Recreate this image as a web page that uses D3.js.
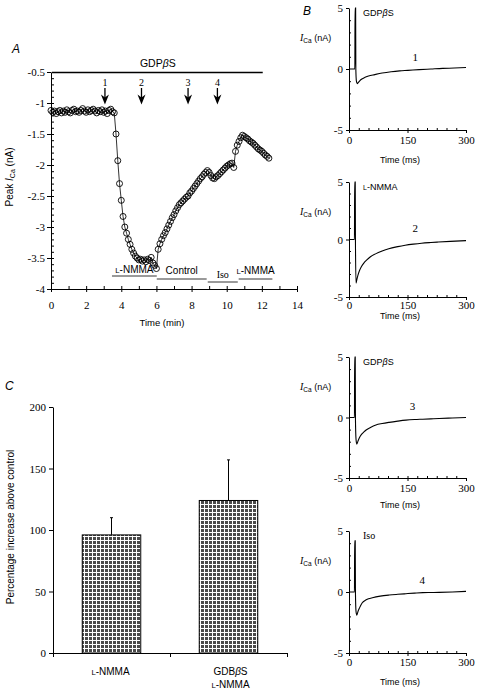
<!DOCTYPE html>
<html><head><meta charset="utf-8">
<script src="https://cdn.jsdelivr.net/npm/d3@7"></script>
<style>
html,body{margin:0;padding:0;background:#fff;}
svg{display:block;}
</style></head><body>
<svg id="fig" width="477" height="693"></svg>
<script>
// ---------------- DATA ----------------
// Panel A: peak ICa (nA), one sample every 0.1 min from 0 to 12.4 min
const sampleMin = 0.1;
const peakICa = [
 -1.12,-1.15,-1.13,-1.17,-1.14,-1.12,-1.16,-1.13,-1.15,-1.11,
 -1.14,-1.16,-1.12,-1.10,-1.14,-1.13,-1.15,-1.12,-1.09,-1.13,
 -1.15,-1.11,-1.14,-1.12,-1.10,-1.13,-1.16,-1.12,-1.14,-1.11,
 -1.15,-1.13,-1.17,-1.12,-1.10,-1.14,
 -1.16,-1.50,-1.93,-2.30,-2.57,-2.83,-3.00,-3.10,-3.20,-3.28,
 -3.36,-3.42,-3.47,-3.50,-3.53,-3.52,-3.55,-3.53,-3.56,-3.52,
 -3.54,-3.49,-3.58,-3.62,-3.67,
 -3.36,-3.27,-3.20,-3.14,-3.09,-3.03,-2.97,-2.91,-2.85,-2.80,
 -2.74,-2.69,-2.64,-2.61,-2.58,-2.55,-2.52,-2.50,-2.45,-2.42,
 -2.38,-2.34,-2.30,-2.26,-2.22,-2.19,-2.15,-2.12,-2.09,-2.12,
 -2.17,-2.21,-2.22,-2.19,-2.17,-2.14,-2.11,-2.08,-2.05,-2.02,
 -2.00,-1.98,-1.97,-2.04,-1.78,-1.68,-1.62,-1.56,-1.52,-1.54,
 -1.56,-1.58,-1.61,-1.63,-1.65,-1.68,-1.71,-1.74,-1.76,-1.78,
 -1.81,-1.84,-1.86,-1.89
];
const xTicksA = [0,2,4,6,8,10,12,14];
const yTicksA = [-0.5,-1,-1.5,-2,-2.5,-3,-3.5,-4];
const arrowTimes = [3.07,5.15,7.8,9.47];
const arrowLabels = ["1","2","3","4"];
const gdpBar = [0.05,12.05];
const treatLabels = ["L-NMMA","Control","Iso","L-NMMA"];
const treatStart = [3.47,6.02,8.92,10.68];
const treatEnd   = [6.02,8.86,10.63,12.6];

// Panel B: current traces (time ms, current nA)
const traceConditions = ["GDPβS","L-NMMA","GDPβS","Iso"];
const traceNumbers = ["1","2","3","4"];
const trace1T = [0.5,15,15.5,17,17.5,19,21,24,28,33,40,50,66,85,108,130,151,180,210,240,270,300];
const trace1V = [0,0,5,5,0,-1.0,-1.2,-1.1,-0.95,-0.82,-0.7,-0.58,-0.46,-0.33,-0.22,-0.15,-0.11,-0.05,0.0,0.05,0.08,0.12];
const trace2T = [0.5,14,14.5,16,16.5,18,20,23,27,32,38,45,55,68,85,102,125,144,165,186,210,229,260,300];
const trace2V = [0,0,5,5,0,-3.8,-3.5,-3.1,-2.7,-2.35,-2.05,-1.8,-1.5,-1.25,-1.0,-0.8,-0.62,-0.5,-0.4,-0.32,-0.26,-0.22,-0.16,-0.1];
const trace3T = [0.5,14,14.5,16,16.5,18,20,23,27,32,38,43,55,69,85,103,125,146,168,189,210,231,265,300];
const trace3V = [0,0,5,5,0,-1.8,-2.2,-1.95,-1.65,-1.4,-1.2,-1.05,-0.82,-0.62,-0.5,-0.4,-0.3,-0.22,-0.17,-0.14,-0.11,-0.08,-0.04,0];
const trace4T = [0.5,14,14.5,16,16.5,18,20,23,27,34,42,50,60,80,103,125,146,168,189,210,231,265,300];
const trace4V = [0,0,4.2,4.2,0,-1.6,-1.9,-1.6,-1.3,-0.88,-0.68,-0.56,-0.47,-0.34,-0.25,-0.19,-0.14,-0.09,-0.05,-0.04,-0.03,0.0,0.05];
const xTicksB = [0,150,300];
const yTicksB = [-5,0,5];

// Panel C
const barCats = ["L-NMMA","GDBβS|L-NMMA"];
const barMeans = [96,124];
const barErrs = [14,33];
const yTicksC = [0,50,100,150,200];

// ---------------- DRAW ----------------
const SERIF = "'Liberation Serif','Times New Roman',serif";
const SANS = "'Liberation Sans',Arial,Helvetica,sans-serif";
const svg = d3.select("#fig");

function styleAxis(g, fs){
  g.attr("font-family", null).attr("font-size", null)
   .style("font-family", SERIF).style("font-size", fs+"px");
  g.selectAll("path,line").attr("stroke","#000");
  g.selectAll("text").attr("fill","#000").style("font-family", SERIF).style("font-size", fs+"px");
}
function lnmma(sel, fs){
  sel.append("tspan").style("font-size", (fs*0.78)+"px").text("L");
  sel.append("tspan").style("font-size", fs+"px").text("-NMMA");
}
function label(sel, txt, fs){
  if (txt === "L-NMMA") { lnmma(sel, fs); return; }
  const i = txt.indexOf("β");
  if (i >= 0){
    sel.append("tspan").text(txt.slice(0,i));
    sel.append("tspan").attr("font-style","italic").text("β");
    sel.append("tspan").text(txt.slice(i+1));
    return;
  }
  sel.text(txt);
}
function txt(g, x, y, fam, fs){
  return g.append("text").attr("x",x).attr("y",y).style("font-family",fam).style("font-size",fs+"px");
}
function panelLetter(x,y,t){
  txt(svg,x,y,SANS,12).attr("font-style","italic").text(t);
}

// ---- Panel A
const xA = d3.scaleLinear().domain([0,14]).range([51,297]);
const yA = d3.scaleLinear().domain([-0.5,-4]).range([72,289]);
const gA = svg.append("g");
panelLetter(12,53,"A");

gA.append("g").attr("transform",`translate(${xA(0)},0)`)
  .call(d3.axisLeft(yA).tickValues(yTicksA).tickSize(4).tickSizeOuter(0).tickPadding(2).tickFormat(d=>String(d)))
  .call(g=>styleAxis(g,11));
gA.append("g").attr("transform",`translate(${xA(0)},0)`)
  .call(d3.axisRight(yA).tickValues(d3.range(-0.6,-3.95,-0.1)).tickSize(3).tickFormat(""))
  .call(g=>g.select(".domain").remove()).call(g=>styleAxis(g,11));
gA.append("g").attr("transform",`translate(0,${yA(-4)})`)
  .call(d3.axisBottom(xA).tickValues(xTicksA).tickSize(3).tickSizeOuter(0).tickPadding(9))
  .call(g=>styleAxis(g,11));
gA.append("g").attr("transform",`translate(0,${yA(-4)})`)
  .call(d3.axisTop(xA).tickValues(d3.range(1,15,1)).tickSize(3).tickFormat(""))
  .call(g=>g.select(".domain").remove()).call(g=>styleAxis(g,11));

txt(gA,162,326,SANS,9.5).attr("text-anchor","middle").text("Time (min)");
const ylA = gA.append("text").attr("transform","translate(12.5,177) rotate(-90)")
  .attr("text-anchor","middle").style("font-family",SANS).style("font-size","10px");
ylA.append("tspan").text("Peak ");
ylA.append("tspan").attr("font-style","italic").text("I");
ylA.append("tspan").style("font-size","7px").attr("dy",2).text("Ca");
ylA.append("tspan").attr("dy",-2).text(" (nA)");

// GDPbetaS bar
gA.append("line").attr("x1",xA(gdpBar[0])).attr("x2",xA(gdpBar[1]))
  .attr("y1",yA(-0.5)+0.5).attr("y2",yA(-0.5)+0.5).attr("stroke","#000").attr("stroke-width",1.4);
label(txt(gA,xA(6.08),67,SANS,10.5).attr("text-anchor","middle"), "GDPβS", 10.5);

// arrows
arrowTimes.forEach((t,i)=>{
  const x = xA(t);
  txt(gA,x,86,SERIF,10).attr("text-anchor","middle").text(arrowLabels[i]);
  gA.append("line").attr("x1",x).attr("x2",x).attr("y1",88).attr("y2",99)
    .attr("stroke","#000").attr("stroke-width",1.3);
  gA.append("path").attr("d",`M${x},104.5 L${x-4},94.5 L${x},97.5 L${x+4},94.5 Z`).attr("fill","#000");
});

// treatments
const treatLineY = [276,279,282,279];
const treatTextY = [273,274,278,274];
treatLabels.forEach((lab,i)=>{
  gA.append("line").attr("x1",xA(treatStart[i])).attr("x2",xA(treatEnd[i]))
    .attr("y1",treatLineY[i]).attr("y2",treatLineY[i]).attr("stroke","#000").attr("stroke-width",0.8);
  const cx = (xA(treatStart[i])+xA(treatEnd[i]))/2;
  const isIso = lab==="Iso";
  label(txt(gA,cx,treatTextY[i],isIso?SERIF:SANS,10).attr("text-anchor","middle"), lab, 10);
});

// data
const ptsA = peakICa.map((v,i)=>[i*sampleMin, v]);
gA.append("path").datum(ptsA)
  .attr("d", d3.line().x(d=>xA(d[0])).y(d=>yA(d[1])))
  .attr("fill","none").attr("stroke","#000").attr("stroke-width",0.8);
gA.append("g").selectAll("circle").data(ptsA).join("circle")
  .attr("cx",d=>xA(d[0])).attr("cy",d=>yA(d[1])).attr("r",3.0)
  .attr("fill","none").attr("stroke","#000").attr("stroke-width",0.9);

// ---- Panel B
panelLetter(303,15,"B");
const traces = [[trace1T,trace1V],[trace2T,trace2V],[trace3T,trace3V],[trace4T,trace4V]];
const layoutB = [
  {top:8,bottom:130,pad:3.5,title:163,numMs:170},
  {top:182,bottom:297,pad:1,title:319,numMs:170},
  {top:357,bottom:478,pad:3.5,title:508,numMs:163},
  {top:531,bottom:653,pad:2.5,title:685,numMs:188}
];
const xB = d3.scaleLinear().domain([0,300]).range([349,466]);
traces.forEach((tr,i)=>{
  const L = layoutB[i];
  const yB = d3.scaleLinear().domain([-5,5]).range([L.bottom,L.top]);
  const g = svg.append("g");
  g.append("g").attr("transform",`translate(${xB(0)},0)`)
    .call(d3.axisLeft(yB).tickValues(yTicksB).tickSize(3).tickSizeOuter(0).tickPadding(3).tickFormat(d=>String(d)))
    .call(a=>styleAxis(a,11));
  g.append("g").attr("transform",`translate(${xB(0)},0)`)
    .call(d3.axisRight(yB).tickValues([-4,-3,-2,-1,1,2,3,4]).tickSize(2).tickFormat(""))
    .call(a=>a.select(".domain").remove()).call(a=>styleAxis(a,11));
  g.append("g").attr("transform",`translate(0,${L.bottom})`)
    .call(d3.axisBottom(xB).tickValues(xTicksB).tickSize(3).tickSizeOuter(0).tickPadding(L.pad))
    .call(a=>styleAxis(a,11));
  g.append("g").attr("transform",`translate(0,${L.bottom})`)
    .call(d3.axisTop(xB).tickValues(d3.range(25,300,25)).tickSize(2).tickFormat(""))
    .call(a=>a.select(".domain").remove()).call(a=>styleAxis(a,11));
  txt(g,400,L.title,SANS,9).attr("text-anchor","middle").text("Time (ms)");
  const yl = txt(g,300,L.top+33,SANS,9);
  yl.append("tspan").attr("font-style","italic").style("font-family",SERIF).style("font-size","10px").text("I");
  yl.append("tspan").style("font-size","6.5px").attr("dy",2).text("Ca");
  yl.append("tspan").attr("dy",-2).text(" (nA)");
  const cond = traceConditions[i];
  label(txt(g,363,L.top+8,cond==="Iso"?SERIF:SANS,cond==="Iso"?10:9), cond, 9);
  txt(g,xB(L.numMs),yB(0)-8,SERIF,11).attr("text-anchor","middle").text(traceNumbers[i]);
  const pts = tr[0].map((t,k)=>[t,tr[1][k]]);
  g.append("path").datum(pts)
    .attr("d", d3.line().x(d=>xB(d[0])).y(d=>yB(d[1])).curve(d3.curveMonotoneX))
    .attr("fill","none").attr("stroke","#000").attr("stroke-width",1.1);
});

// ---- Panel C
panelLetter(5,390,"C");
const xC = d3.scaleBand().domain(barCats).range([53,287]).paddingInner(0).paddingOuter(0);
const yC = d3.scaleLinear().domain([0,200]).range([653,407]);
const gC = svg.append("g");
const defs = svg.append("defs");
const pat = defs.append("pattern").attr("id","hatch").attr("patternUnits","userSpaceOnUse")
  .attr("width",4).attr("height",4);
pat.append("rect").attr("width",4).attr("height",4).attr("fill","#4a4a4a");
pat.append("path").attr("d","M0,0.5H4M0.5,0V4").attr("stroke","#fff").attr("stroke-width",1);

gC.append("g").attr("transform",`translate(53,0)`)
  .call(d3.axisLeft(yC).tickValues(yTicksC).tickSize(4).tickSizeOuter(0).tickPadding(3))
  .call(a=>styleAxis(a,11));
gC.append("g").attr("transform",`translate(0,653)`)
  .call(d3.axisBottom(xC).tickSize(0).tickFormat(""))
  .call(a=>styleAxis(a,11));
[53, xC(barCats[1]), 287].forEach(x=>{
  gC.append("line").attr("x1",x+0.5).attr("x2",x+0.5).attr("y1",653).attr("y2",657).attr("stroke","#000");
});
barCats.forEach((c,i)=>{
  const bw = xC.bandwidth()*0.5;
  const x0 = xC(c)+xC.bandwidth()/2 - bw/2;
  const cx = xC(c)+xC.bandwidth()/2;
  gC.append("line").attr("x1",cx).attr("x2",cx).attr("y1",yC(barMeans[i])).attr("y2",yC(barMeans[i]+barErrs[i]))
    .attr("stroke","#000").attr("stroke-width",1);
  gC.append("line").attr("x1",cx-1.5).attr("x2",cx+1.5).attr("y1",yC(barMeans[i]+barErrs[i])).attr("y2",yC(barMeans[i]+barErrs[i]))
    .attr("stroke","#000").attr("stroke-width",1);
  gC.append("rect").attr("x",x0).attr("y",yC(barMeans[i])).attr("width",bw)
    .attr("height",yC(0)-yC(barMeans[i])).attr("fill","url(#hatch)").attr("stroke","#000").attr("stroke-width",1);
  const lines = c.split("|");
  lines.forEach((ln,k)=>{
    label(txt(gC,cx+(k===1?2:(i===1?2:-1)),675+k*12.5,SANS,10).attr("text-anchor","middle"), ln, 10);
  });
});
gC.append("text").attr("transform","translate(13.5,527) rotate(-90)").attr("text-anchor","middle")
  .style("font-family",SANS).style("font-size","10px").text("Percentage increase above control");
</script>
</body></html>
